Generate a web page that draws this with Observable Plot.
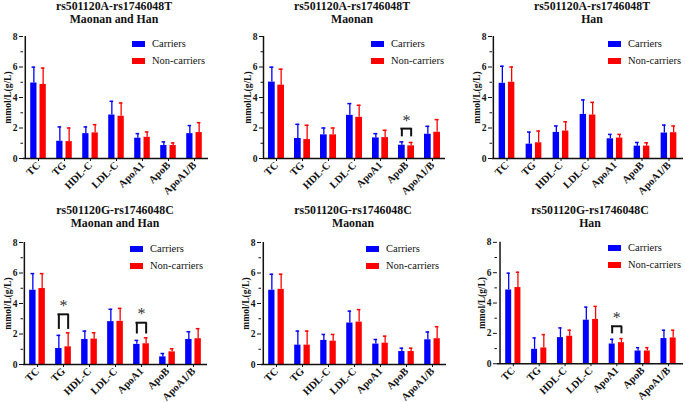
<!DOCTYPE html>
<html><head><meta charset="utf-8">
<script src="https://cdn.jsdelivr.net/npm/d3@7"></script>
<script src="https://cdn.jsdelivr.net/npm/@observablehq/plot@0.6"></script>
<style>
body{margin:0;background:#fff;}
#root{position:relative;width:685px;height:402px;overflow:hidden;font-family:"Liberation Serif","Times New Roman",serif;background:#fff;}
.title{position:absolute;text-align:center;font-family:"Liberation Serif","Times New Roman",serif;font-weight:bold;font-size:11.8px;line-height:12.6px;width:240px;white-space:nowrap;color:#111;}
.panel{position:absolute;}
.panel svg{overflow:visible;}
.legend{position:absolute;font-family:"Liberation Serif","Times New Roman",serif;font-size:10.5px;line-height:16.5px;color:#111;white-space:nowrap;}
.legend div{height:16.5px;display:flex;align-items:center;}
.sw{display:inline-block;width:13px;height:6px;margin-right:7px;}
</style></head><body><div id="root"></div>
<script>
// ---------------- data ----------------
const categories = ["TC","TG","HDL-C","LDL-C","ApoA1","ApoB","ApoA1/B"];
const groups = ["Carriers","Non-carriers"];
const titles = [
  ["rs501120A-rs1746048T","Maonan and Han"],
  ["rs501120A-rs1746048T","Maonan"],
  ["rs501120A-rs1746048T","Han"],
  ["rs501120G-rs1746048C","Maonan and Han"],
  ["rs501120G-rs1746048C","Maonan"],
  ["rs501120G-rs1746048C","Han"]
];
const yTicks = [0,2,4,6,8];
const yMinorTicks = [1,3,5,7];
const yLabel = "mmol/L(g/L)";

// mean and SD (upper whisker length) per panel, per category
const carriersMean = [
  [4.95,1.13,1.63,2.85,1.33,0.85,1.63],
  [5.01,1.31,1.55,2.83,1.35,0.87,1.59],
  [4.93,0.94,1.71,2.89,1.29,0.81,1.67],
  [4.87,1.05,1.64,2.81,1.32,0.50,1.64],
  [4.87,1.27,1.58,2.72,1.34,0.85,1.62],
  [4.86,0.95,1.72,2.87,1.30,0.84,1.66]
];
const carriersSD = [
  [1.04,0.94,0.44,0.90,0.30,0.24,0.53],
  [0.98,0.93,0.45,0.77,0.28,0.22,0.52],
  [1.12,0.79,0.42,0.95,0.29,0.24,0.52],
  [1.09,0.86,0.55,0.81,0.26,0.22,0.51],
  [1.05,0.92,0.39,0.78,0.30,0.22,0.51],
  [1.11,0.75,0.64,0.86,0.31,0.22,0.55]
];
const nonCarriersMean = [
  [4.86,1.11,1.68,2.77,1.39,0.85,1.70],
  [4.81,1.24,1.55,2.70,1.37,0.83,1.72],
  [5.00,1.03,1.80,2.85,1.34,0.81,1.69],
  [4.98,1.16,1.67,2.83,1.36,0.83,1.69],
  [4.93,1.27,1.53,2.78,1.40,0.85,1.69],
  [5.02,1.04,1.81,2.92,1.39,0.84,1.70]
];
const nonCarriersSD = [
  [1.07,0.89,0.54,0.87,0.35,0.17,0.65],
  [1.05,0.94,0.45,0.79,0.48,0.22,0.83],
  [1.00,0.77,0.61,0.83,0.24,0.22,0.44],
  [0.98,0.92,0.41,0.85,0.39,0.20,0.66],
  [0.99,0.92,0.44,0.82,0.46,0.22,0.79],
  [1.01,0.88,0.40,0.86,0.27,0.22,0.51]
];
// significance brackets (data units): category, leg bottom, bracket top, star
const significance = [
  [],
  [{cat:"ApoB", low:1.42, top:1.96, star:2.45}],
  [],
  [{cat:"TG", low:2.30, top:3.29, star:3.85}, {cat:"ApoA1", low:2.00, top:2.74, star:3.30}],
  [],
  [{cat:"ApoA1", low:1.97, top:2.47, star:3.00}]
];

// ---------------- layout (pixels) ----------------
const layout = [
  {axisX:23,  right:208, top:0,   titleCx:114, titleTop:0,   legX:132, legY:36},
  {axisX:263, right:445, top:0,   titleCx:352, titleTop:0,   legX:371, legY:36},
  {axisX:492, right:683, top:0,   titleCx:592, titleTop:0,   legX:608, legY:36},
  {axisX:23,  right:207, top:206, titleCx:115, titleTop:204, legX:130, legY:241},
  {axisX:261, right:446, top:206, titleCx:353, titleTop:204, legX:366, legY:241},
  {axisX:497, right:684, top:206, titleCx:590, titleTop:204, legX:608, legY:240}
];
const BLUE = "#0000ff", RED = "#ff0000";
const FONT = '"Liberation Serif","Times New Roman",serif';

const root = document.getElementById("root");

layout.forEach((L, i) => {
  const ml = 23, mr = 2, mt = 36;
  const H = i < 3 ? 200 : 196;
  const mb = H - mt - 122;
  const W = L.right - L.axisX + ml + mr;
  const step = (W - ml - mr) / categories.length;
  const half = step / 2;
  const gap = 1.3, barW = 6.7, off = gap + barW / 2, cap = 2;

  const car = categories.map((c, j) => ({cat: c, mean: carriersMean[i][j], up: carriersMean[i][j] + carriersSD[i][j]}));
  const non = categories.map((c, j) => ({cat: c, mean: nonCarriersMean[i][j], up: nonCarriersMean[i][j] + nonCarriersSD[i][j]}));
  const sig = significance[i];

  const svg = Plot.plot({
    width: W, height: H,
    marginLeft: ml, marginRight: mr, marginTop: mt, marginBottom: mb,
    style: {fontFamily: FONT, background: "transparent", overflow: "visible", color: "#111"},
    x: {domain: categories, padding: 0},
    y: {domain: [0, 8]},
    marks: [
      Plot.ruleX(car, {x: "cat", y1: "mean", y2: "up", stroke: BLUE, strokeWidth: 1.3, dx: -off}),
      Plot.ruleX(non, {x: "cat", y1: "mean", y2: "up", stroke: RED, strokeWidth: 1.3, dx: off}),
      Plot.tickY(car, {x: "cat", y: "up", stroke: BLUE, strokeWidth: 1.5, insetLeft: half - off - cap, insetRight: half + off - cap}),
      Plot.tickY(non, {x: "cat", y: "up", stroke: RED, strokeWidth: 1.5, insetLeft: half + off - cap, insetRight: half - off - cap}),
      Plot.barY(car, {x: "cat", y: "mean", fill: BLUE, insetLeft: half - gap - barW, insetRight: half + gap}),
      Plot.barY(non, {x: "cat", y: "mean", fill: RED, insetLeft: half + gap, insetRight: half - gap - barW}),
      Plot.ruleX(sig, {x: "cat", y1: "low", y2: "top", stroke: "#111", strokeWidth: 2, dx: -off}),
      Plot.ruleX(sig, {x: "cat", y1: "low", y2: "top", stroke: "#111", strokeWidth: 2, dx: off}),
      Plot.tickY(sig, {x: "cat", y: "top", stroke: "#111", strokeWidth: 2, insetLeft: half - off - 1, insetRight: half - off - 1}),
      Plot.text(sig, {x: "cat", y: "star", text: () => "*", fontSize: 16, fill: "#333"}),
      Plot.ruleY([0], {stroke: "#111", strokeWidth: 1.5}),
      Plot.ruleX([categories[0]], {x: d => d, y1: 0, y2: 8, dx: -half, stroke: "#111", strokeWidth: 1.5}),
      Plot.axisY(yMinorTicks, {tickSize: 2.5, text: null, label: null, stroke: "#111"}),
      Plot.axisY(yTicks, {tickSize: 4, tickPadding: 2, fontWeight: "bold", fontSize: 9.5, fill: "#111",
        label: yLabel, labelAnchor: "center", labelArrow: "none", labelOffset: 19}),
      Plot.axisX({tickSize: 3, tickRotate: -45, tickPadding: 2, fontWeight: "bold", fontSize: 10.5, fill: "#111", label: null})
    ]
  });
  const p = document.createElement("div");
  p.className = "panel";
  p.style.left = (L.axisX - ml) + "px";
  p.style.top = L.top + "px";
  p.appendChild(svg);
  root.appendChild(p);

  const t = document.createElement("div");
  t.className = "title";
  t.style.left = (L.titleCx - 120) + "px";
  t.style.top = L.titleTop + "px";
  t.innerHTML = titles[i].map(s => `<div>${s}</div>`).join("");
  root.appendChild(t);

  const lg = document.createElement("div");
  lg.className = "legend";
  lg.style.left = L.legX + "px";
  lg.style.top = L.legY + "px";
  lg.innerHTML = groups.map((g, k) => `<div><span class="sw" style="background:${k ? RED : BLUE}"></span>${g}</div>`).join("");
  root.appendChild(lg);
});
</script></body></html>
